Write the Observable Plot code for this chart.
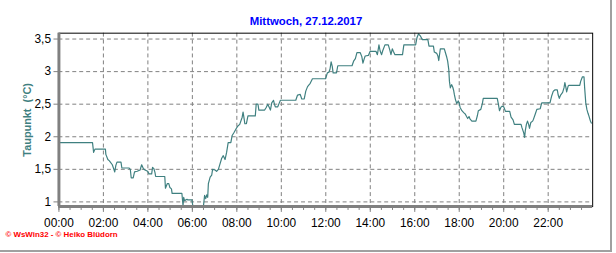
<!DOCTYPE html>
<html>
<head>
<meta charset="utf-8">
<script src="https://cdn.jsdelivr.net/npm/d3@7"></script>
<script src="https://cdn.jsdelivr.net/npm/@observablehq/plot@0.6"></script>
<style>
  html, body { margin: 0; padding: 0; background: white; }
  #wrap { position: relative; width: 610px; height: 250px; border-right: 2px solid #a0a0a0; border-bottom: 2px solid #a0a0a0; overflow: visible; }
  #wrap svg { position: absolute; left: 0; top: 0; overflow: visible; }
</style>
</head>
<body>
<div id="wrap"></div>
<script>
const title = "Mittwoch, 27.12.2017";
const yLabel = "Taupunkt  (°C)";
const footer = "© WsWin32 - © Heiko Blüdorn";

const hours = [
  0, 1.51, 1.56, 1.62, 2.09, 2.11, 2.2, 2.27, 2.40, 2.46, 2.51, 2.56, 2.61, 2.79, 2.83, 3.16, 3.21, 3.25, 3.34, 3.40,
  3.52, 3.65, 3.72, 3.80, 3.87, 3.99, 4.05, 4.17, 4.21, 4.27, 4.32, 4.35, 4.76, 4.79, 4.87, 4.94, 4.99, 5.06, 5.09, 5.53,
  5.58, 5.61, 5.65, 5.76, 5.80, 5.98, 6.02, 6.50, 6.55, 6.60, 6.65, 6.69, 6.72, 6.80, 6.87, 6.91, 7.02, 7.09, 7.17, 7.24,
  7.32, 7.39, 7.47, 7.54, 7.61, 7.73, 7.79, 7.88, 7.98, 8.06, 8.13, 8.24, 8.28, 8.33, 8.36, 8.43, 8.50, 8.83, 8.87, 8.95,
  8.99, 9.25, 9.32, 9.39, 9.47, 9.51, 9.57, 9.65, 9.69, 9.73, 9.84, 9.91, 9.96, 10.65, 10.73, 10.85, 10.92, 11.03, 11.10, 11.18,
  11.30, 11.40, 11.99, 12.07, 12.14, 12.19, 12.24, 12.29, 12.33, 12.48, 12.54, 13.18, 13.25, 13.33, 13.40, 13.55, 13.62, 13.67, 13.73, 13.77,
  13.92, 13.99, 14.26, 14.32, 14.39, 14.44, 14.51, 14.56, 14.66, 14.81, 14.88, 14.93, 14.99, 15.04, 15.11, 15.45, 15.51, 16.04, 16.10, 16.17,
  16.25, 16.34, 16.59, 16.64, 16.84, 16.88, 16.99, 17.04, 17.08, 17.11, 17.15, 17.33, 17.38, 17.44, 17.48, 17.53, 17.56, 17.60, 17.66, 17.71,
  17.75, 17.78, 17.83, 17.89, 17.96, 18.00, 18.04, 18.12, 18.20, 18.27, 18.33, 18.38, 18.44, 18.49, 18.57, 18.75, 18.82, 18.86, 18.97, 19.04,
  19.08, 19.71, 19.76, 19.81, 19.87, 19.93, 20.00, 20.08, 20.27, 20.33, 20.42, 20.48, 20.78, 20.82, 20.90, 20.94, 20.97, 21.02, 21.07, 21.12,
  21.16, 21.22, 21.30, 21.34, 21.42, 21.49, 21.64, 21.71, 22.08, 22.16, 22.23, 22.31, 22.41, 22.45, 22.50, 22.56, 22.65, 22.71, 22.75, 22.80,
  22.83, 22.90, 22.94, 23.42, 23.46, 23.54, 23.61, 23.64, 23.69, 23.74, 23.79, 23.83, 23.90, 23.94
];
const dewPoint = [
  1.91, 1.91, 1.76, 1.81, 1.81, 1.73, 1.65, 1.63, 1.57, 1.51, 1.46, 1.56, 1.61, 1.61, 1.52, 1.52, 1.50, 1.37, 1.37, 1.46,
  1.47, 1.49, 1.57, 1.51, 1.49, 1.47, 1.43, 1.43, 1.53, 1.51, 1.45, 1.39, 1.39, 1.21, 1.28, 1.28, 1.22, 1.20, 1.13, 1.13,
  0.94, 1.07, 1.02, 1.04, 1.03, 1.03, 0.94, 0.94, 1.10, 1.05, 1.11, 1.07, 1.28, 1.38, 1.41, 1.50, 1.49, 1.47, 1.50, 1.58,
  1.67, 1.71, 1.65, 1.76, 1.91, 1.91, 2.02, 2.07, 2.13, 2.17, 2.19, 2.30, 2.38, 2.27, 2.20, 2.20, 2.32, 2.32, 2.50, 2.50,
  2.41, 2.41, 2.45, 2.50, 2.44, 2.41, 2.52, 2.56, 2.50, 2.46, 2.46, 2.52, 2.56, 2.56, 2.64, 2.65, 2.58, 2.58, 2.70, 2.77,
  2.82, 2.89, 2.89, 2.98, 2.99, 3.04, 3.15, 3.08, 2.98, 2.98, 3.09, 3.09, 3.16, 3.20, 3.29, 3.29, 3.23, 3.13, 3.20, 3.24,
  3.25, 3.31, 3.31, 3.26, 3.41, 3.32, 3.26, 3.32, 3.41, 3.41, 3.33, 3.26, 3.35, 3.31, 3.26, 3.26, 3.41, 3.41, 3.52, 3.58,
  3.55, 3.49, 3.49, 3.39, 3.39, 3.30, 3.28, 3.24, 3.17, 3.25, 3.35, 3.35, 3.29, 3.22, 3.16, 3.03, 2.85, 2.75, 2.80, 2.76,
  2.71, 2.65, 2.57, 2.51, 2.55, 2.51, 2.45, 2.40, 2.37, 2.35, 2.31, 2.28, 2.31, 2.27, 2.24, 2.24, 2.33, 2.40, 2.42, 2.51,
  2.59, 2.59, 2.50, 2.40, 2.45, 2.47, 2.46, 2.39, 2.39, 2.30, 2.26, 2.19, 2.19, 2.14, 2.06, 1.99, 2.09, 2.19, 2.24, 2.19,
  2.13, 2.22, 2.24, 2.27, 2.35, 2.42, 2.43, 2.52, 2.52, 2.63, 2.70, 2.72, 2.72, 2.64, 2.59, 2.64, 2.68, 2.75, 2.83, 2.75,
  2.69, 2.78, 2.79, 2.79, 2.85, 2.92, 2.92, 2.75, 2.52, 2.42, 2.36, 2.32, 2.24, 2.21
];

const xTicks = [0, 2, 4, 6, 8, 10, 12, 14, 16, 18, 20, 22];
const xTickLabels = ["00:00", "02:00", "04:00", "06:00", "08:00", "10:00", "12:00", "14:00", "16:00", "18:00", "20:00", "22:00"];
const xMinorTicks = d3.range(0, 24, 0.5);
const yTicks = [1, 1.5, 2, 2.5, 3, 3.5];
const yTickLabels = ["1", "1,5", "2", "2,5", "3", "3,5"];

const data = hours.map((h, i) => ({h, v: dewPoint[i]}));
const teal = "#3f8080";
const gridGray = "#808080";

const chart = Plot.plot({
  width: 616,
  height: 253,
  marginLeft: 59,
  marginRight: 18,
  marginTop: 33,
  marginBottom: 45,
  style: {fontFamily: "Liberation Sans, Arial, sans-serif", fontSize: "12px", background: "transparent", overflow: "visible"},
  x: {domain: [0, 24], label: null},
  y: {domain: [0.93, 3.59], label: null},
  marks: [
    Plot.gridX(xTicks.slice(1), {stroke: gridGray, strokeOpacity: 1, strokeDasharray: "4,3"}),
    Plot.gridY(yTicks, {stroke: gridGray, strokeOpacity: 1, strokeDasharray: "4,3"}),
    Plot.line(data, {x: "h", y: "v", stroke: teal, strokeWidth: 1.2}),
    Plot.frame({stroke: "black"}),
    Plot.ruleX([0], {stroke: gridGray, strokeWidth: 3}),
    Plot.ruleY([0.93], {stroke: gridGray, strokeWidth: 3}),
    Plot.axisX(xMinorTicks, {tickSize: 4, tickFormat: () => "", stroke: gridGray}),
    Plot.axisX(xTicks, {tickSize: 6, tickPadding: 6, stroke: gridGray, fill: "black",
      tickFormat: d => xTickLabels[xTicks.indexOf(d)], fontSize: 12}),
    Plot.axisY(yTicks, {tickSize: 5, tickPadding: 3, stroke: gridGray, fill: "black",
      tickFormat: d => yTickLabels[yTicks.indexOf(d)], fontSize: 12}),
    Plot.text([title], {frameAnchor: "top", dx: -20, dy: -16, fill: "#0000ff", fontWeight: "bold", fontSize: 11.5}),
    Plot.text([yLabel], {frameAnchor: "left", textAnchor: "middle", dx: -32, rotate: -90, fill: teal, fontWeight: "bold", fontSize: 11}),
    Plot.text([footer], {frameAnchor: "bottom-left", dx: -54, dy: 30.5, textAnchor: "start", fill: "#ff0000", fontWeight: "bold", fontSize: 8})
  ]
});
document.getElementById("wrap").appendChild(chart);
</script>
</body>
</html>
